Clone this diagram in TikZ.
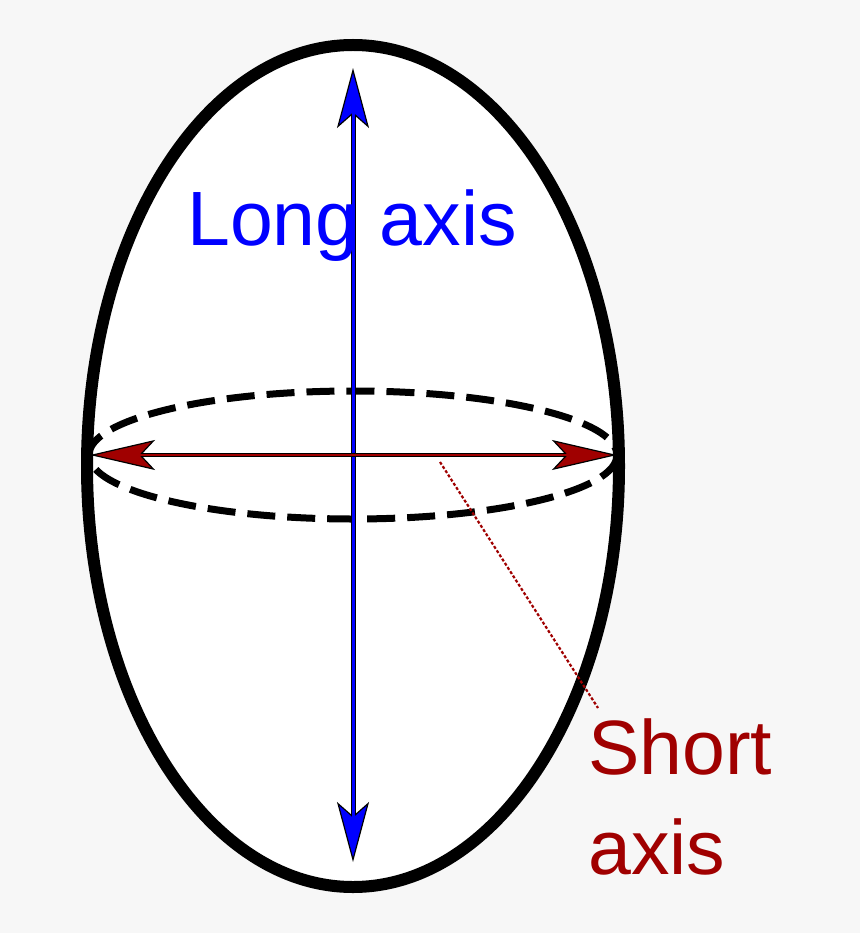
\documentclass[tikz,border=0pt]{standalone}
\usepackage{fontspec}
\setmainfont{Liberation Sans}
\usetikzlibrary{arrows.meta}
\definecolor{bg}{HTML}{F7F7F7}
\definecolor{dred}{HTML}{A00000}
\tikzset{
  lab/.style={font=\fontsize{77}{100}\selectfont, inner sep=0pt},
  bluearrow/.style={line width=5pt, {Stealth[length=60pt,width=32pt,inset=14pt,line width=1.2pt,fill=blue]}-{Stealth[length=60pt,width=32pt,inset=14pt,line width=1.2pt,fill=blue]}},
  redarrow/.style={line width=4pt, {Stealth[length=65pt,width=30pt,inset=14pt,line width=1.2pt,fill=dred]}-{Stealth[length=65pt,width=30pt,inset=14pt,line width=1.2pt,fill=dred]}}
}
\begin{document}
\begin{tikzpicture}[x=1pt,y=-1pt]
\fill[bg] (0,0) rectangle (860,933);
\useasboundingbox (0,0) rectangle (860,933);
% outer ellipse
\draw[line width=12pt, fill=white] (353,466) ellipse [x radius=266, y radius=421];
% dashed equator
\draw[line width=7pt, dash pattern=on 28pt off 12pt] (353,455) ellipse [x radius=264, y radius=64];
\coordinate (top) at (353,68);
\coordinate (bot) at (353,862);
\coordinate (left) at (90,455);
\coordinate (right) at (617,455);
% long axis arrow
\draw[bluearrow] (top) -- (bot);
\draw[line width=3pt, blue, shorten <=40pt, shorten >=40pt] (top) -- (bot);
\node[lab, text=blue] (long) at (352,226) {Long axis};
% short axis arrow
\draw[redarrow] (left) -- (right);
\draw[line width=2.2pt, dred, shorten <=40pt, shorten >=40pt] (left) -- (right);
% leader
\coordinate (lead1) at (440,462);
\coordinate (lead2) at (598,708);
\draw[dred, line width=2.2pt, dash pattern=on 3pt off 2pt] (lead1) -- (lead2);
\node[lab, text=dred, align=left, anchor=north west] (short) at (588,718) {Short\\axis};
\end{tikzpicture}
\end{document}
